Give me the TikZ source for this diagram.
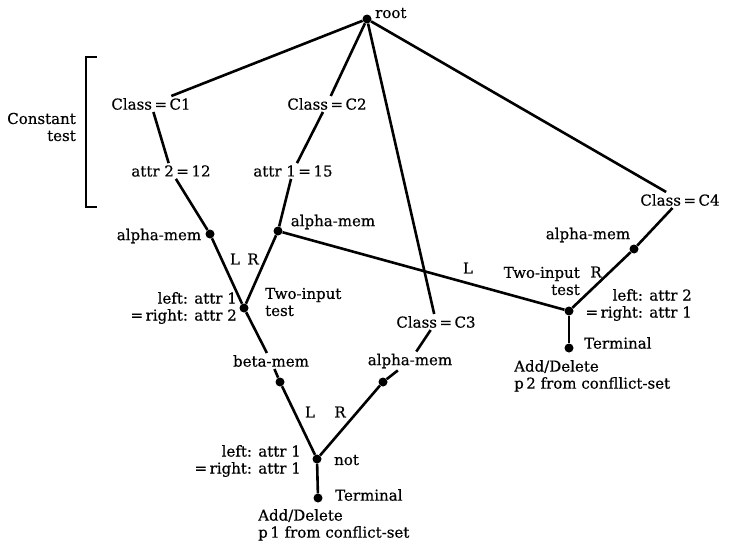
\documentclass[tikz,border=0pt]{standalone}
\usepackage{fontspec}
\setmainfont{DejaVu Serif}
\newfontfamily\lblfont{DejaVu Serif}[FakeBold=0.5]
\begin{document}
\begin{tikzpicture}[x=1pt,y=-1pt,
  every node/.style={font=\lblfont\fontsize{15}{17}\selectfont},
  lbl/.style={inner sep=2pt},
  dot/.style={circle,fill=black,inner sep=0pt,minimum size=9pt},
  edge/.style={line width=2.6pt},
  thin/.style={line width=1.4pt}]
\useasboundingbox (0,0) rectangle (729,546);
% nodes
\node[dot] (root) at (367,19) {};
\node[lbl,anchor=west] (rootl) at (373,13) {root};
\node[lbl] (c1) at (151,104) {Class\,=\,C1};
\node[lbl] (a2) at (171,171) {attr 2\,=\,12};
\node[dot] (am1) at (210,234) {};
\node[lbl] (am1l) at (159,236) {alpha-mem};
\node[lbl] (c2) at (327,104) {Class\,=\,C2};
\node[lbl] (a1) at (293,171) {attr 1\,=\,15};
\node[dot] (am2) at (278,231) {};
\node[lbl] (am2l) at (333,222) {alpha-mem};
\node[dot] (t1) at (244,308) {};
\node[lbl,align=right,anchor=east] (t1c) at (239,308) {left: attr 1\\=\,right: attr 2};
\node[lbl,align=left,anchor=west] (t1t) at (263,302) {Two-input\\test};
\node[lbl] (l1) at (235,259) {L};
\node[lbl] (r1) at (253,259) {R};
\node[lbl] (beta) at (271,361) {beta-mem};
\node[dot] (bm) at (280,382) {};
\node[lbl] (c3) at (436,322) {Class\,=\,C3};
\node[lbl] (am3l) at (410,361) {alpha-mem};
\node[dot] (am3) at (383,382) {};
\node[dot] (notd) at (317,459) {};
\node[lbl,anchor=west] (notl) at (332,460) {not};
\node[lbl] (l2) at (310,412) {L};
\node[lbl] (r2) at (340,412) {R};
\node[lbl,align=right,anchor=east] (c2c) at (303,461) {left: attr 1\\=\,right: attr 1};
\node[dot] (term1) at (318,498) {};
\node[lbl,anchor=west] (term1l) at (333,495) {Terminal};
\node[lbl,align=left,anchor=north west] (ad1) at (256,507) {Add/Delete\\p\,1 from conflict-set};
\node[lbl] (c4) at (680,200) {Class\,=\,C4};
\node[dot] (am4) at (634,249) {};
\node[lbl] (am4l) at (588,235) {alpha-mem};
\node[dot] (t2) at (569,311) {};
\node[lbl,align=right,anchor=east] (t2t) at (582,281) {Two-input\\test};
\node[lbl] (l3) at (468,268) {L};
\node[lbl] (r3) at (596,272) {R};
\node[lbl,align=right,anchor=east] (t2c) at (694,305) {left: attr 2\\=\,right: attr 1};
\node[dot] (term2) at (569,348) {};
\node[lbl,anchor=west] (term2l) at (582,343) {Terminal};
\node[lbl,align=left,anchor=north west] (ad2) at (512,358) {Add/Delete\\p\,2 from confllict-set};
\node[lbl,align=right,anchor=east] (ct) at (78,127) {Constant\\test};
% bracket
\coordinate (bt) at (97,57);
\coordinate (bb) at (97,207);
\draw[thin] (bt) -| (bb -| 86,0) -- (bb);
% edges
\draw[edge] (root) -- (c1);
\draw[edge] (root) -- (c2);
\draw[edge] (root) -- (c3);
\draw[edge] (root) -- (c4);
\draw[edge] (c1) -- (a2);
\draw[edge] (a2) -- (am1) -- (t1) -- (beta);
\draw[edge] (c2) -- (a1);
\draw[edge] (a1) -- (am2) -- (t1);
\draw[edge] (am2) -- (t2);
\draw[edge] (beta) -- (bm) -- (notd);
\draw[edge] (c3) -- (am3l);
\draw[edge] (am3l) -- (am3) -- (notd);
\draw[edge] (notd) -- (term1);
\draw[edge] (c4) -- (am4) -- (t2);
\draw[edge] (t2) -- (term2);
\end{tikzpicture}
\end{document}
